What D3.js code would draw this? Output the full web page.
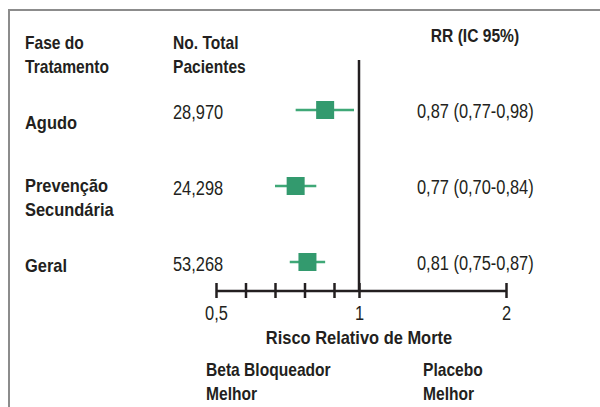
<!DOCTYPE html>
<html>
<head>
<meta charset="utf-8">
<script src="https://cdn.jsdelivr.net/npm/d3@7"></script>
<style>
  body { margin: 0; background: #fff; }
  text { font-family: "Liberation Sans", Arial, sans-serif; fill: #231f20; }
  .reg { font-size: 20px; }
  .bold { font-size: 19px; font-weight: bold; }
</style>
</head>
<body>
<div id="chart"></div>
<script>
// data
const fases = [["Agudo"], ["Prevenção", "Secundária"], ["Geral"]]
const pacientes = ["28,970", "24,298", "53,268"]
const rr = [0.87, 0.77, 0.81]
const icLow = [0.77, 0.70, 0.75]
const icHigh = [0.98, 0.84, 0.87]
const tickVals = [0.5, 0.6, 0.7, 0.8, 0.9, 1, 2]
const tickLabels = {0.5: "0,5", 1: "1", 2: "2"}

const width = 600, height = 407

const svg = d3.select("#chart")
  .append("svg")
    .attr("width", width)
    .attr("height", height)

// frame (top + left only)
svg.append("path")
  .attr("d", "M9,407 L9,10 L600,10")
  .attr("fill", "none")
  .attr("stroke", "#8c8c8c")
  .attr("stroke-width", 2)

// x scale as drawn in the original (0.9-1 gap a bit shorter)
const x = d3.scaleLinear()
  .domain([0.5, 0.9, 1, 2])
  .range([216, 334, 359, 506])

// rows
const y = d3.scalePoint()
  .domain(d3.range(rr.length))
  .range([110, 262])

const axisY = 291

// headers
const head = svg.append("g").attr("class", "bold")
head.append("text").attr("x", 25).attr("y", 49).text("Fase do")
head.append("text").attr("x", 25).attr("y", 73).text("Tratamento")
head.append("text").attr("x", 173).attr("y", 49).text("No. Total")
head.append("text").attr("x", 173).attr("y", 73).text("Pacientes")
head.append("text").attr("x", 475).attr("y", 42).attr("text-anchor", "middle").text("RR (IC 95%)")

// reference line at 1
svg.append("line")
  .attr("x1", x(1)).attr("x2", x(1))
  .attr("y1", 60).attr("y2", axisY)
  .attr("stroke", "#231f20")
  .attr("stroke-width", 2.5)

// axis
const xAxis = svg.append("g")
  .attr("transform", `translate(0,${axisY})`)
  .call(d3.axisBottom(x)
    .tickValues(tickVals)
    .tickSize(8)
    .tickFormat(d => tickLabels[d] || ""))
xAxis.attr("font-size", null).attr("font-family", null)

xAxis.select(".domain")
  .attr("d", `M${x(0.5)},0H${x(2)}`)
  .attr("stroke", "#231f20")
  .attr("stroke-width", 2.5)
xAxis.selectAll(".tick line")
  .attr("y1", -8).attr("y2", 7)
  .attr("stroke", "#231f20")
  .attr("stroke-width", 2.5)
xAxis.selectAll(".tick text")
  .attr("class", "reg")
  .attr("y", 29)
  .attr("dy", null)

svg.append("text")
  .attr("class", "bold")
  .attr("x", x(1)).attr("y", 344)
  .attr("text-anchor", "middle")
  .text("Risco Relativo de Morte")

const foot = svg.append("g").attr("class", "bold")
foot.append("text").attr("x", 206).attr("y", 376).text("Beta Bloqueador")
foot.append("text").attr("x", 206).attr("y", 400).text("Melhor")
foot.append("text").attr("x", 423).attr("y", 376).text("Placebo")
foot.append("text").attr("x", 423).attr("y", 400).text("Melhor")

// rows
const fmt = v => v.toFixed(2).replace(".", ",")
const labelDy = [19, 6, 10]

const rows = svg.selectAll(".row")
  .data(d3.range(rr.length))
  .join("g")
    .attr("class", "row")

rows.each(function (i) {
  const g = d3.select(this)
  fases[i].forEach((t, k) => {
    g.append("text")
      .attr("class", "bold")
      .attr("x", 25)
      .attr("y", y(i) + labelDy[i] + k * 24)
      .text(t)
  })
  g.append("text")
    .attr("class", "reg")
    .attr("x", 173)
    .attr("y", y(i) + 9)
    .text(pacientes[i])
  g.append("text")
    .attr("class", "reg")
    .attr("x", 417)
    .attr("y", y(i) + 8)
    .text(`${fmt(rr[i])} (${fmt(icLow[i])}-${fmt(icHigh[i])})`)
  g.append("line")
    .attr("x1", x(icLow[i])).attr("x2", x(icHigh[i]))
    .attr("y1", y(i)).attr("y2", y(i))
    .attr("stroke", "#3fa877")
    .attr("stroke-width", 2.5)
  g.append("rect")
    .attr("x", x(rr[i]) - 9)
    .attr("y", y(i) - 9)
    .attr("width", 18)
    .attr("height", 18)
    .attr("fill", "#339a6e")
})

// squeeze the glyphs: the original uses a condensed face
svg.selectAll("text").each(function () {
  const t = d3.select(this)
  if (!t.text()) return
  const f = t.classed("bold") ? 0.865 : 0.82
  t.attr("textLength", this.getComputedTextLength() * f)
   .attr("lengthAdjust", "spacingAndGlyphs")
})
</script>
</body>
</html>
